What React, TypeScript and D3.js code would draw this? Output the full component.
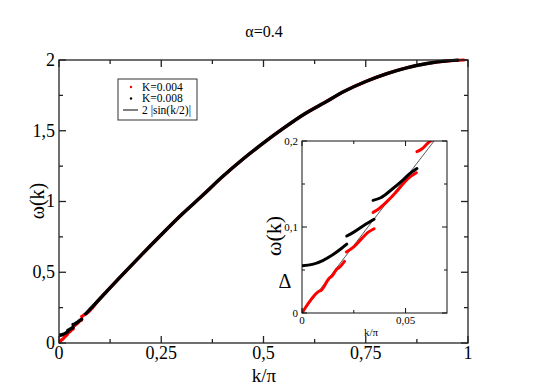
import React from "react";
import * as d3 from "d3";

// ---- data ----
const title = "α=0.4";
const xTicksMain = [0, 0.25, 0.5, 0.75, 1];
const xTickLabelsMain = ["0", "0,25", "0,5", "0,75", "1"];
const yTicksMain = [0, 0.5, 1, 1.5, 2];
const yTickLabelsMain = ["0", "0,5", "1", "1,5", "2"];
const xTicksInset = [0, 0.05];
const xTickLabelsInset = ["0", "0,05"];
const yTicksInset = [0, 0.1, 0.2];
const yTickLabelsInset = ["0", "0,1", "0,2"];

const legendLabels = ["K=0.004", "K=0.008", "2 |sin(k/2)|"];

// K=0.004 (red) segments: [k/pi, omega]
const redSegments: [number, number][][] = [
  [[0, 0], [0.008, 0.025], [0.0095, 0.027], [0.013, 0.04], [0.0145, 0.043], [0.0168, 0.051], [0.018, 0.053], [0.0205, 0.06]],
  [[0.0214, 0.071], [0.025, 0.077], [0.029, 0.087], [0.032, 0.094], [0.0348, 0.098]],
  [[0.0343, 0.117], [0.037, 0.121], [0.042, 0.132], [0.047, 0.145], [0.051, 0.156], [0.0552, 0.163]],
  [[0.0555, 0.1876], [0.058, 0.191], [0.0605, 0.197], [0.062, 0.2], [0.065, 0.204], [0.1, 0.313], [0.15, 0.467],
   [0.2, 0.618], [0.25, 0.765], [0.3, 0.908], [0.35, 1.04], [0.4, 1.176], [0.45, 1.3], [0.5, 1.414],
   [0.55, 1.52], [0.6, 1.618], [0.65, 1.7], [0.7, 1.782], [0.75, 1.848], [0.8, 1.902], [0.85, 1.945],
   [0.9, 1.975], [0.95, 1.994], [0.99, 2.0]],
];

// K=0.008 (black) segments
const blackSegments: [number, number][][] = [
  [[0, 0.055], [0.005, 0.0565], [0.01, 0.061], [0.015, 0.068], [0.019, 0.075], [0.0216, 0.08]],
  [[0.0216, 0.0895], [0.025, 0.094], [0.03, 0.102], [0.0348, 0.109]],
  [[0.0343, 0.131], [0.038, 0.134], [0.043, 0.143], [0.048, 0.153], [0.052, 0.162], [0.0555, 0.168]],
  [[0.065, 0.206], [0.1, 0.313], [0.15, 0.467], [0.2, 0.618], [0.25, 0.765], [0.3, 0.908], [0.35, 1.04],
   [0.4, 1.176], [0.45, 1.3], [0.5, 1.414], [0.55, 1.52], [0.6, 1.618], [0.65, 1.7], [0.7, 1.782],
   [0.75, 1.848], [0.8, 1.902], [0.85, 1.945], [0.9, 1.975], [0.95, 1.994], [0.975, 1.999]],
];

// analytic curve 2|sin(k/2)|, k = pi * (k/pi)
const curve = (kOverPi: number) => 2 * Math.abs(Math.sin((Math.PI * kOverPi) / 2));

const FONT = "Liberation Serif, Times New Roman, Times, serif";

function Frame({ x, y, xTicks, xLabels, yTicks, yLabels, xMinor, yMinor, major, minor, fs, stroke, sw, xOff }: any) {
  const [x0, x1] = x.range();
  const [y0, y1] = y.range(); // y0 bottom, y1 top
  return (
    <g>
      <rect x={x0} y={y1} width={x1 - x0} height={y0 - y1} fill="none" stroke={stroke} strokeWidth={sw} />
      {xTicks.map((t: number, i: number) => (
        <g key={"xt" + i}>
          <line x1={x(t)} x2={x(t)} y1={y0} y2={y0 - major} stroke={stroke} strokeWidth={sw} />
          <line x1={x(t)} x2={x(t)} y1={y1} y2={y1 + major} stroke={stroke} strokeWidth={sw} />
          <text x={x(t)} y={y0 + xOff} textAnchor="middle" fontSize={fs} fontFamily={FONT}>{xLabels[i]}</text>
        </g>
      ))}
      {xMinor.map((t: number, i: number) => (
        <g key={"xm" + i}>
          <line x1={x(t)} x2={x(t)} y1={y0} y2={y0 - minor} stroke={stroke} strokeWidth={sw} />
          <line x1={x(t)} x2={x(t)} y1={y1} y2={y1 + minor} stroke={stroke} strokeWidth={sw} />
        </g>
      ))}
      {yTicks.map((t: number, i: number) => (
        <g key={"yt" + i}>
          <line x1={x0} x2={x0 + major} y1={y(t)} y2={y(t)} stroke={stroke} strokeWidth={sw} />
          <line x1={x1} x2={x1 - major} y1={y(t)} y2={y(t)} stroke={stroke} strokeWidth={sw} />
          <text x={x0 - 4} y={y(t)} dy="0.33em" textAnchor="end" fontSize={fs} fontFamily={FONT}>{yLabels[i]}</text>
        </g>
      ))}
      {yMinor.map((t: number, i: number) => (
        <g key={"ym" + i}>
          <line x1={x0} x2={x0 + minor} y1={y(t)} y2={y(t)} stroke={stroke} strokeWidth={sw} />
          <line x1={x1} x2={x1 - minor} y1={y(t)} y2={y(t)} stroke={stroke} strokeWidth={sw} />
        </g>
      ))}
    </g>
  );
}

export default function App() {
  const W = 545, H = 385;
  // main plot
  const x = d3.scaleLinear().domain([0, 1]).range([59, 468]);
  const y = d3.scaleLinear().domain([0, 2]).range([343, 60]);
  // inset
  const xi = d3.scaleLinear().domain([0, 0.07]).range([302, 447]);
  const yi = d3.scaleLinear().domain([0, 0.2]).range([313, 141]);

  const lineMain = d3.line<[number, number]>().x(d => x(d[0])).y(d => y(d[1])).curve(d3.curveMonotoneX);
  const lineInset = d3.line<[number, number]>().x(d => xi(d[0])).y(d => yi(d[1])).curve(d3.curveMonotoneX);

  const curvePtsMain: [number, number][] = d3.range(0, 1.0001, 0.005).map(k => [k, curve(k)]);
  const curvePtsInset: [number, number][] = d3.range(0, 0.0701, 0.0005).map(k => [k, curve(k)]);

  return (
    <svg width={W} height={H} style={{ position: "absolute", left: 0, top: 0, background: "#fff" }}>
      <defs>
        <clipPath id="clipMain"><rect x={59} y={58} width={411} height={286} /></clipPath>
        <clipPath id="clipInset"><rect x={302} y={141} width={145} height={172} /></clipPath>
      </defs>
      <rect width={W} height={H} fill="#fff" />
      <text x={264} y={37} textAnchor="middle" fontSize={16} fontFamily={FONT}>{title}</text>

      {/* main data */}
      <g clipPath="url(#clipMain)">
        <path d={lineMain(curvePtsMain) || ""} fill="none" stroke="#000" strokeWidth={1} />
        {redSegments.map((s, i) => (
          <path key={"r" + i} d={lineMain(s) || ""} fill="none" stroke="#ff0000" strokeWidth={3.2} strokeLinecap="round" />
        ))}
        {blackSegments.map((s, i) => (
          <path key={"b" + i} d={lineMain(s) || ""} fill="none" stroke="#000" strokeWidth={3.4} strokeLinecap="round" />
        ))}
      </g>
      <Frame x={x} y={y} xTicks={xTicksMain} xLabels={xTickLabelsMain} yTicks={yTicksMain} yLabels={yTickLabelsMain}
        xMinor={[0.125, 0.375, 0.625, 0.875]} yMinor={[0.25, 0.75, 1.25, 1.75]} major={7} minor={4} fs={18}
        stroke="#222" sw={1.3} xOff={16} />
      <text transform="translate(44,201) rotate(-90)" textAnchor="middle" fontSize={20} fontFamily={FONT}>ω(k)</text>
      <text x={264} y={382} textAnchor="middle" fontSize={19} fontFamily={FONT}>k/π</text>

      {/* legend */}
      <rect x={118} y={79} width={79} height={41} fill="#fff" stroke="#333" strokeWidth={1} />
      <circle cx={131} cy={87} r={1.2} fill="#ff0000" />
      <text x={142} y={91} fontSize={11.5} fontFamily={FONT}>{legendLabels[0]}</text>
      <circle cx={131} cy={98.5} r={1.2} fill="#000" />
      <text x={142} y={102} fontSize={11.5} fontFamily={FONT}>{legendLabels[1]}</text>
      <line x1={123} x2={138} y1={110} y2={110} stroke="#000" strokeWidth={1} />
      <text x={142} y={114} fontSize={11.5} fontFamily={FONT}>{legendLabels[2]}</text>

      {/* inset */}
      <rect x={302} y={141} width={145} height={172} fill="#fff" />
      <g clipPath="url(#clipInset)">
        <path d={lineInset(curvePtsInset) || ""} fill="none" stroke="#000" strokeWidth={0.7} />
        {redSegments.map((s, i) => (
          <path key={"ri" + i} d={lineInset(s) || ""} fill="none" stroke="#ff0000" strokeWidth={3} strokeLinecap="round" />
        ))}
        {blackSegments.map((s, i) => (
          <path key={"bi" + i} d={lineInset(s) || ""} fill="none" stroke="#000" strokeWidth={3} strokeLinecap="round" />
        ))}
      </g>
      <Frame x={xi} y={yi} xTicks={xTicksInset} xLabels={xTickLabelsInset} yTicks={yTicksInset} yLabels={yTickLabelsInset}
        xMinor={[0.025]} yMinor={[0.05, 0.15]} major={5} minor={3} fs={11} stroke="#111" sw={1} xOff={11} />
      <text transform="translate(281,236) rotate(-90)" textAnchor="middle" fontSize={22} fontFamily={FONT}>ω(k)</text>
      <text x={285} y={288} textAnchor="middle" fontSize={20} fontFamily={FONT}>Δ</text>
      <text x={371} y={336} textAnchor="middle" fontSize={11} fontFamily={FONT}>k/π</text>
    </svg>
  );
}
